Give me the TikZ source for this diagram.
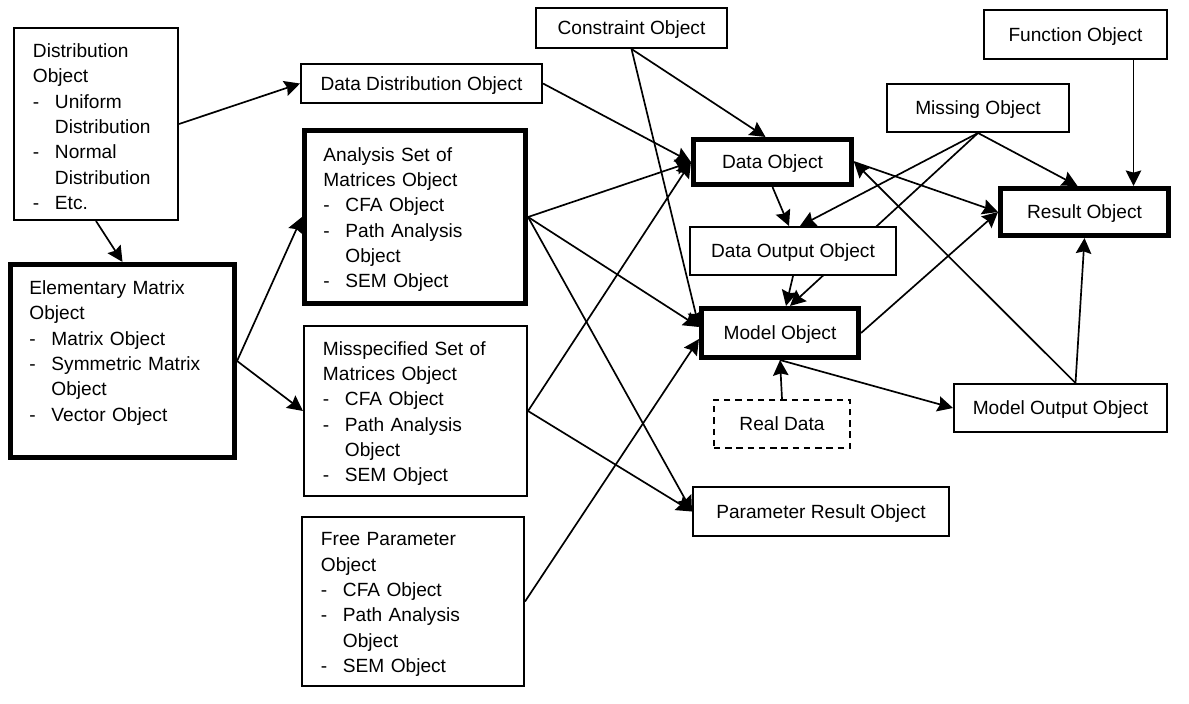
\documentclass[tikz,border=0pt]{standalone}
\usepackage{fontspec}
\setmainfont{Liberation Sans}
\usetikzlibrary{arrows.meta, calc, backgrounds}
\tikzset{>={Stealth[length=11pt,width=11pt,inset=1.5pt]}}
\newcommand{\itemdash}{\makebox[0.55cm][l]{-}}
\newcommand{\itemcont}{\hspace*{0.55cm}}
\newcommand{\toppad}{\rule{0pt}{1em}}

\begin{document}
\begin{tikzpicture}[x=0.025cm, y=-0.025cm,
  box/.style={draw, line width=1.4pt, fill=white, inner sep=0pt, font=\fontsize{13.6}{18}\selectfont},
  heavy/.style={line width=3.6pt},
  single/.style={text height=1.15em, text depth=0.21em},
  thickbox/.style={box, heavy, single},
  listbox/.style={box, align=left, inner xsep=0.475cm},
  dashbox/.style={box, single, dash pattern=on 4.5pt off 3.5pt},
  link/.style={->, line width=1.2pt}]
\useasboundingbox (0,0) rectangle (1189,703);

% left column
\node[listbox, text width=3.15cm, minimum height=4.8cm] (dist) at (96,124)
  {\toppad Distribution\\Object\\\itemdash Uniform\\\itemcont Distribution\\\itemdash Normal\\\itemcont Distribution\\\itemdash Etc.};
\node[listbox, heavy, text width=4.65cm, minimum height=4.825cm] (elem) at (122.5,361)
  {\toppad Elementary Matrix\\Object\\\itemdash Matrix Object\\\itemdash Symmetric Matrix\\\itemcont Object\\\itemdash Vector Object\\\mbox{}};

% second column
\node[box, single, minimum width=6.025cm, minimum height=0.975cm] (ddist) at (421.5,83.5) {Data Distribution Object};
\node[listbox, heavy, text width=4.575cm, minimum height=4.325cm] (anal) at (415,217)
  {\toppad Analysis Set of\\Matrices Object\\\itemdash CFA Object\\\itemdash Path Analysis\\\itemcont Object\\\itemdash SEM Object};
\node[listbox, text width=4.625cm, minimum height=4.25cm] (missp) at (415.5,411)
  {\toppad Misspecified Set of\\Matrices Object\\\itemdash CFA Object\\\itemdash Path Analysis\\\itemcont Object\\\itemdash SEM Object};
\node[listbox, text width=4.6cm, minimum height=4.225cm] (free) at (413,601.5)
  {\toppad Free Parameter\\Object\\\itemdash CFA Object\\\itemdash Path Analysis\\\itemcont Object\\\itemdash SEM Object};

% middle column
\node[box, single, minimum width=4.775cm, minimum height=1cm] (cons) at (631.5,28) {Constraint Object};
\node[thickbox, minimum width=3.95cm, minimum height=1.125cm] (data) at (772.5,162) {Data Object};
\node[box, single, minimum width=5.15cm, minimum height=1.2cm] (dout) at (793,251) {Data Output Object};
\node[thickbox, minimum width=3.925cm, minimum height=1.225cm] (model) at (780,333) {Model Object};
\node[dashbox, minimum width=3.4cm, minimum height=1.2cm] (real) at (782,424) {Real Data};
\node[box, single, minimum width=6.4cm, minimum height=1.225cm] (pres) at (821,511.5) {Parameter Result Object};

% right column
\node[box, single, minimum width=4.575cm, minimum height=1.225cm] (func) at (1075.5,34.5) {Function Object};
\node[box, single, minimum width=4.55cm, minimum height=1.2cm] (miss) at (978,108) {Missing Object};
\node[thickbox, minimum width=4.2cm, minimum height=1.175cm] (res) at (1084.5,212) {Result Object};
\node[box, single, minimum width=5.325cm, minimum height=1.2cm] (mout) at (1060.5,408) {Model Output Object};

\coordinate (fdrop) at ($(func.south)+(58,0)$);
\coordinate (mtop) at ($(mout.north)+(15,0)$);

\begin{scope}[on background layer]
\draw[link] (dist.east) -- (ddist.west);
\draw[link] (dist.south) -- (elem.north);
\draw[link] (elem.east) -- (anal.west);
\draw[link] (elem.east) -- (missp.west);
\draw[link] (ddist.east) -- (data.west);
\draw[link] (cons.south) -- ($(data.north)+(-7,0)$);
\draw[link] (cons.south) -- ($(model.west)+(0,-6)$);
\draw[link] (anal.east) -- (data.west);
\draw[link] (anal.east) -- ($(model.west)+(0,-6)$);
\draw[link] (anal.east) -- (pres.west);
\draw[link] (missp.east) -- (data.west);
\draw[link] (missp.east) -- (pres.west);
\draw[link] (free.east) -- ($(model.west)+(0,6)$);
\draw[link] (data.south) -- ($(dout.north)+(-4,0)$);
\draw[link] (dout.south) -- ($(model.north)+(6,0)$);
\draw[link] (miss.south) -- ($(dout.north)+(7,0)$);
\draw[link] (miss.south) -- ($(model.north)+(10,0)$);
\draw[link] (miss.south) -- ($(res.north)+(-7,0)$);
\draw[link] (fdrop) -- (fdrop |- res.north);
\draw[link] (data.east) -- (res.west);
\draw[link] (model.east) -- (res.west);
\draw[link] (model.south) -- (mout.west);
\draw[link] (real.north) -- (model.south);
\draw[link] (mtop) -- (res.south);
\draw[link] (mtop) -- (data.east);
\end{scope}
\end{tikzpicture}
\end{document}
